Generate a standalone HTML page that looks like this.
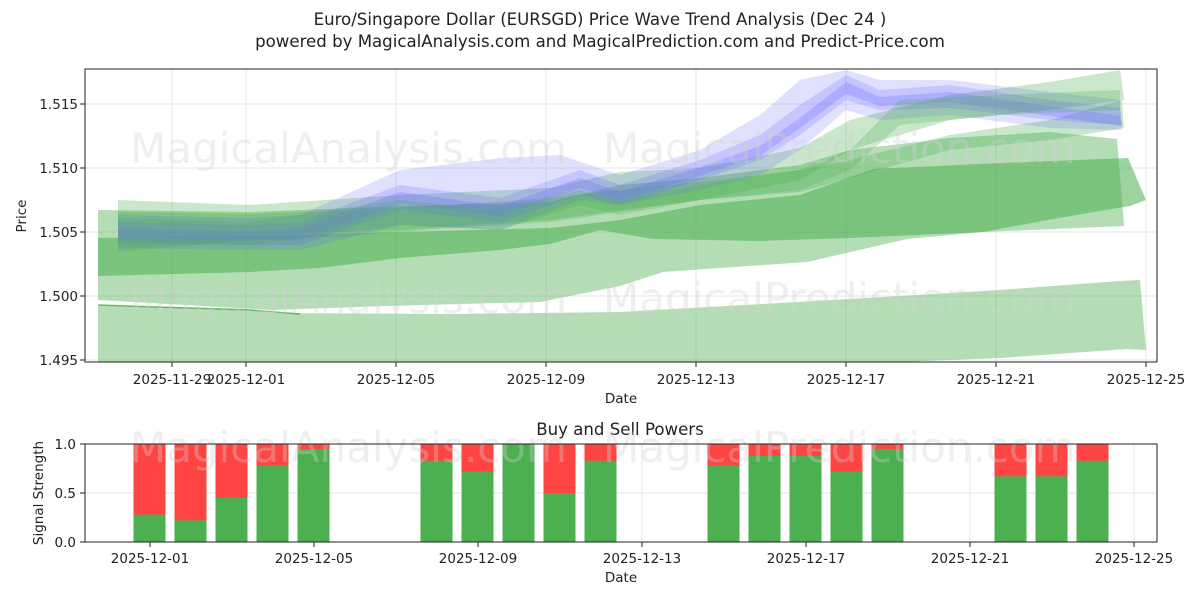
<!DOCTYPE html>
<html><head><meta charset="utf-8"><style>
body{margin:0;background:#fff;}
svg text{font-family:"DejaVu Sans","Liberation Sans",sans-serif;}
</style></head><body>
<svg width="1200" height="600" viewBox="0 0 1200 600" xmlns="http://www.w3.org/2000/svg">
<rect width="1200" height="600" fill="#fff"/>
<text x="600" y="25" text-anchor="middle" font-size="16.6" fill="#222">Euro/Singapore Dollar (EURSGD) Price Wave Trend Analysis (Dec 24 )</text>
<text x="600" y="47" text-anchor="middle" font-size="16.6" fill="#222">powered by MagicalAnalysis.com and MagicalPrediction.com and Predict-Price.com</text>
<defs><clipPath id="c1"><rect x="85" y="69" width="1072" height="293"/></clipPath></defs>
<g stroke="#e6e6e6" stroke-width="1">
<line x1="85" x2="1157" y1="104" y2="104"/><line x1="85" x2="1157" y1="168" y2="168"/><line x1="85" x2="1157" y1="232" y2="232"/><line x1="85" x2="1157" y1="296" y2="296"/><line x1="85" x2="1157" y1="360" y2="360"/>
<line y1="69" y2="362" x1="172" x2="172"/><line y1="69" y2="362" x1="246" x2="246"/><line y1="69" y2="362" x1="396" x2="396"/><line y1="69" y2="362" x1="546" x2="546"/><line y1="69" y2="362" x1="696" x2="696"/><line y1="69" y2="362" x1="846" x2="846"/><line y1="69" y2="362" x1="996" x2="996"/><line y1="69" y2="362" x1="1146" x2="1146"/>
</g>
<g clip-path="url(#c1)">
<polygon fill="#4caf50" fill-opacity="0.42" points="98,305 250,309 272,313 450,314 620,312 763,304 900,296 1000,290 1120,281 1140,280 1146,350 1127,349 1000,358 900,362 98,370"/>
<polygon fill="#4caf50" fill-opacity="0.42" points="98,210 250,212 400,206 550,202 620,185 700,178 800,165 850,150 950,138 1050,132 1117,139 1124,226 983,232 907,239 807,262 663,272 620,286 600,290 540,302 385,306 272,310 98,300"/>
<polygon fill="#4caf50" fill-opacity="0.55" points="98,238 250,236 400,232 550,228 620,220 700,205 800,195 873,169 1000,163 1128,158 1146,200 1130,206 1053,219 983,232 850,238 760,241 653,239 600,230 550,244 500,250 400,258 320,268 250,272 98,276"/>
<polygon fill="#4caf50" fill-opacity="0.3" points="118,200 250,205 400,195 550,188 620,172 700,168 800,148 850,120 950,95 1050,82 1120,70 1124,100 1050,110 950,120 850,150 800,180 700,200 620,210 550,220 400,230 250,235 118,238"/>
<polygon fill="#4caf50" fill-opacity="0.3" points="118,212 250,214 350,210 450,205 550,198 620,190 700,182 800,170 850,160 950,135 1050,120 1122,100 1124,128 1050,140 950,150 850,178 800,192 700,200 620,212 550,222 450,228 350,236 250,240 118,252"/>
<polyline fill="none" stroke="#4caf50" stroke-width="1.5" stroke-opacity="0.8" points="98,305 250,310 300,314"/>
<polygon fill="#6666ff" fill-opacity="0.2" points="118,215 250,218 300,215 400,170 500,158 560,155 620,175 700,150 760,115 800,80 846,70 880,80 950,80 1050,92 1120,100 1122,130 1050,128 950,115 880,120 846,110 800,150 760,175 700,190 620,205 580,200 500,230 400,225 300,250 250,250 118,248"/>
<polygon fill="#6666ff" fill-opacity="0.22" points="118,222 250,225 300,222 400,185 500,198 580,170 620,185 700,160 760,135 800,105 846,75 880,90 950,85 1050,100 1120,108 1122,125 1050,120 950,108 880,110 846,100 800,135 760,160 700,180 620,205 580,195 500,222 400,210 300,245 250,245 118,242"/>
<polygon fill="#6666ff" fill-opacity="0.25" points="118,228 250,232 300,228 400,192 500,206 580,178 620,192 700,167 760,146 800,118 846,82 880,97 950,92 1050,106 1120,116 1122,126 1050,116 950,102 880,106 846,94 800,128 760,156 700,176 620,200 580,188 500,216 400,204 300,240 250,240 118,238"/>
<polygon fill="#4caf50" fill-opacity="0.25" points="118,218 250,222 400,200 500,210 580,190 620,200 700,185 800,170 850,150 900,100 1000,95 1120,90 1120,110 1000,115 900,125 850,170 800,190 700,200 620,215 580,205 500,230 400,225 250,245 118,245"/>
</g>
<g fill="#d0d0d0" fill-opacity="0.35" font-size="42">
<text x="130" y="163">MagicalAnalysis.com</text><text x="603" y="163">MagicalPrediction.com</text>
<text x="130" y="313">MagicalAnalysis.com</text><text x="603" y="313">MagicalPrediction.com</text>
</g>
<rect x="85" y="69" width="1072" height="293" fill="none" stroke="#222" stroke-width="1"/>
<g font-size="13.5" fill="#222" text-anchor="end">
<text x="78" y="109">1.515</text><text x="78" y="173">1.510</text><text x="78" y="237">1.505</text><text x="78" y="301">1.500</text><text x="78" y="365">1.495</text>
</g>
<g stroke="#222"><line x1="80" x2="85" y1="104" y2="104"/><line x1="80" x2="85" y1="168" y2="168"/><line x1="80" x2="85" y1="232" y2="232"/><line x1="80" x2="85" y1="296" y2="296"/><line x1="80" x2="85" y1="360" y2="360"/>
<line y1="362" y2="367" x1="172" x2="172"/><line y1="362" y2="367" x1="246" x2="246"/><line y1="362" y2="367" x1="396" x2="396"/><line y1="362" y2="367" x1="546" x2="546"/><line y1="362" y2="367" x1="696" x2="696"/><line y1="362" y2="367" x1="846" x2="846"/><line y1="362" y2="367" x1="996" x2="996"/><line y1="362" y2="367" x1="1146" x2="1146"/></g>
<g font-size="13.5" fill="#222" text-anchor="middle">
<text x="172" y="384">2025-11-29</text><text x="246" y="384">2025-12-01</text><text x="396" y="384">2025-12-05</text><text x="546" y="384">2025-12-09</text><text x="696" y="384">2025-12-13</text><text x="846" y="384">2025-12-17</text><text x="996" y="384">2025-12-21</text><text x="1146" y="384">2025-12-25</text>
<text x="621" y="403">Date</text>
<text x="26" y="216" transform="rotate(-90 26 216)">Price</text>
</g>
<text x="620" y="435" text-anchor="middle" font-size="16.6" fill="#222">Buy and Sell Powers</text>
<g stroke="#e6e6e6"><line x1="85" x2="1157" y1="444" y2="444"/><line x1="85" x2="1157" y1="493" y2="493"/>
<line y1="444" y2="542" x1="150" x2="150"/><line y1="444" y2="542" x1="314" x2="314"/><line y1="444" y2="542" x1="478" x2="478"/><line y1="444" y2="542" x1="642" x2="642"/><line y1="444" y2="542" x1="806" x2="806"/><line y1="444" y2="542" x1="970" x2="970"/><line y1="444" y2="542" x1="1134" x2="1134"/></g>
<g>
<rect x="133.5" y="444" width="32" height="98" fill="#ff4444"/><rect x="133.5" y="514.6" width="32" height="27.4" fill="#4caf50"/>
<rect x="174.5" y="444" width="32" height="98" fill="#ff4444"/><rect x="174.5" y="520.4" width="32" height="21.6" fill="#4caf50"/>
<rect x="215.5" y="444" width="32" height="98" fill="#ff4444"/><rect x="215.5" y="497.9" width="32" height="44.1" fill="#4caf50"/>
<rect x="256.5" y="444" width="32" height="98" fill="#ff4444"/><rect x="256.5" y="465.6" width="32" height="76.4" fill="#4caf50"/>
<rect x="297.5" y="444" width="32" height="98" fill="#ff4444"/><rect x="297.5" y="448.9" width="32" height="93.1" fill="#4caf50"/>
<rect x="420.5" y="444" width="32" height="98" fill="#ff4444"/><rect x="420.5" y="460.7" width="32" height="81.3" fill="#4caf50"/>
<rect x="461.5" y="444" width="32" height="98" fill="#ff4444"/><rect x="461.5" y="471.4" width="32" height="70.6" fill="#4caf50"/>
<rect x="502.5" y="444" width="32" height="98" fill="#4caf50"/>
<rect x="543.5" y="444" width="32" height="98" fill="#ff4444"/><rect x="543.5" y="493" width="32" height="49" fill="#4caf50"/>
<rect x="584.5" y="444" width="32" height="98" fill="#ff4444"/><rect x="584.5" y="460.7" width="32" height="81.3" fill="#4caf50"/>
<rect x="707.5" y="444" width="32" height="98" fill="#ff4444"/><rect x="707.5" y="465.6" width="32" height="76.4" fill="#4caf50"/>
<rect x="748.5" y="444" width="32" height="98" fill="#ff4444"/><rect x="748.5" y="455.8" width="32" height="86.2" fill="#4caf50"/>
<rect x="789.5" y="444" width="32" height="98" fill="#ff4444"/><rect x="789.5" y="455.8" width="32" height="86.2" fill="#4caf50"/>
<rect x="830.5" y="444" width="32" height="98" fill="#ff4444"/><rect x="830.5" y="471.4" width="32" height="70.6" fill="#4caf50"/>
<rect x="871.5" y="444" width="32" height="98" fill="#ff4444"/><rect x="871.5" y="448.9" width="32" height="93.1" fill="#4caf50"/>
<rect x="994.5" y="444" width="32" height="98" fill="#ff4444"/><rect x="994.5" y="476.3" width="32" height="65.7" fill="#4caf50"/>
<rect x="1035.5" y="444" width="32" height="98" fill="#ff4444"/><rect x="1035.5" y="476.3" width="32" height="65.7" fill="#4caf50"/>
<rect x="1076.5" y="444" width="32" height="98" fill="#ff4444"/><rect x="1076.5" y="460.7" width="32" height="81.3" fill="#4caf50"/>
</g>
<g fill="#d0d0d0" fill-opacity="0.35" font-size="42">
<text x="130" y="462">MagicalAnalysis.com</text><text x="603" y="462">MagicalPrediction.com</text>
</g>
<rect x="85" y="444" width="1072" height="98" fill="none" stroke="#222"/>
<g font-size="13.5" fill="#222" text-anchor="end">
<text x="76" y="449">1.0</text><text x="76" y="498">0.5</text><text x="76" y="547">0.0</text></g>
<g stroke="#222"><line x1="80" x2="85" y1="444" y2="444"/><line x1="80" x2="85" y1="493" y2="493"/><line x1="80" x2="85" y1="542" y2="542"/>
<line y1="542" y2="547" x1="150" x2="150"/><line y1="542" y2="547" x1="314" x2="314"/><line y1="542" y2="547" x1="478" x2="478"/><line y1="542" y2="547" x1="642" x2="642"/><line y1="542" y2="547" x1="806" x2="806"/><line y1="542" y2="547" x1="970" x2="970"/><line y1="542" y2="547" x1="1134" x2="1134"/></g>
<g font-size="13.5" fill="#222" text-anchor="middle">
<text x="150" y="563">2025-12-01</text><text x="314" y="563">2025-12-05</text><text x="478" y="563">2025-12-09</text><text x="642" y="563">2025-12-13</text><text x="806" y="563">2025-12-17</text><text x="970" y="563">2025-12-21</text><text x="1134" y="563">2025-12-25</text>
<text x="621" y="582">Date</text>
<text x="43" y="493" transform="rotate(-90 43 493)">Signal Strength</text>
</g>
</svg>
</body></html>
